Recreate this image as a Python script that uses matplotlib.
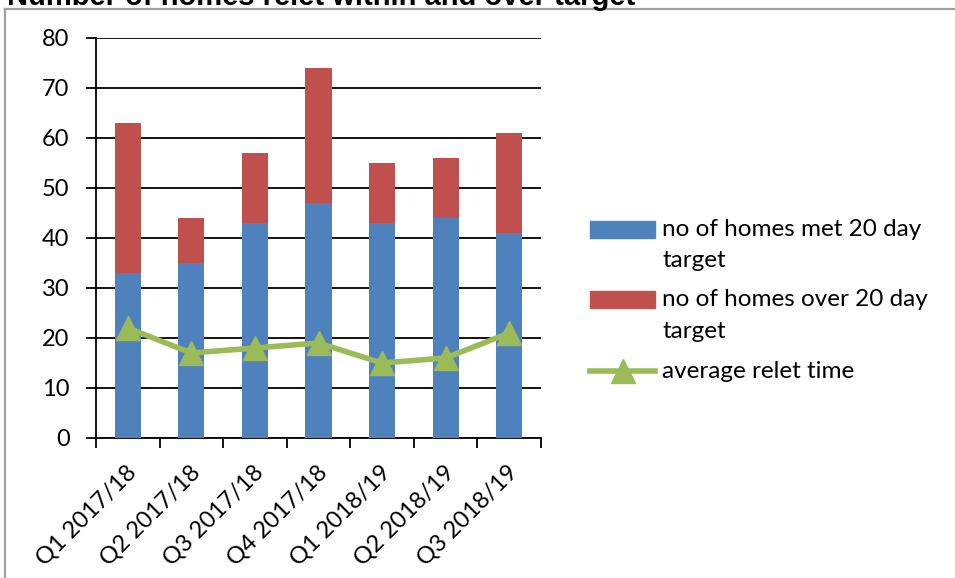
import matplotlib
matplotlib.use('Agg')
import matplotlib.pyplot as plt
import matplotlib.transforms as mtransforms
import numpy as np
from matplotlib.lines import Line2D
from matplotlib.patches import Rectangle

# data
quarters = ['Q1 2017/18', 'Q2 2017/18', 'Q3 2017/18', 'Q4 2017/18',
            'Q1 2018/19', 'Q2 2018/19', 'Q3 2018/19']
met_target = [33, 35, 43, 47, 43, 44, 41]
over_target = [30, 9, 14, 27, 12, 12, 20]
avg_relet = [22, 17, 18, 19, 15, 16, 21]

series_names = [['no of homes met 20 day', 'target'],
                ['no of homes over 20 day', 'target'],
                ['average relet time']]

c_blue = '#4f81bd'
c_red = '#c0504d'
c_green = '#9bbb59'

plt.rcParams['font.family'] = ['Lato', 'DejaVu Sans']

W, H = 955, 578
fig = plt.figure(figsize=(W/100, H/100), dpi=100)
ax = fig.add_axes([96/W, 1 - 438/H, 445/W, 400/H])

x = np.arange(len(quarters))
ax.bar(x, met_target, width=0.41, color=c_blue, zorder=3)
ax.bar(x, over_target, bottom=met_target, width=0.41, color=c_red, zorder=3)
ax.plot(x, avg_relet, color=c_green, lw=4, marker='^', ms=17, zorder=4)

ax.set_xlim(-0.5, len(quarters) - 0.5)
ax.set_ylim(0, 80)
ax.set_yticks(range(0, 81, 10))
ax.tick_params(axis='y', labelsize=17, length=7, width=1.3, pad=12)
ax.yaxis.grid(True, color='black', lw=1.3, zorder=0)

# ticks on category boundaries, labels drawn at centres
ax.set_xticks(np.arange(-0.5, len(quarters), 1.0))
ax.set_xticklabels([])
ax.tick_params(axis='x', length=7, width=1.3, direction='out')
off = mtransforms.ScaledTranslation(0.05, -0.31, fig.dpi_scale_trans)
for xi, q in zip(x, quarters):
    ax.text(xi, 0, q, transform=ax.get_xaxis_transform() + off, rotation=45,
            ha='right', va='center', rotation_mode='anchor', fontsize=17)

for s in ['top', 'right']:
    ax.spines[s].set_visible(False)
ax.spines['left'].set_linewidth(1.3)
ax.spines['bottom'].set_linewidth(1.3)

# legend, drawn by hand (Excel style: key beside first line)
key_y = [229, 299, 371]
for i, (names, yy) in enumerate(zip(series_names, key_y)):
    if i < 2:
        fig.add_artist(Rectangle((590/W, 1 - (yy + 8.5)/H), 65/W, 17/H,
                                 transform=fig.transFigure,
                                 color=[c_blue, c_red][i]))
    else:
        fig.add_artist(Line2D([590/W, 655/W], [1 - yy/H, 1 - yy/H],
                              transform=fig.transFigure, color=c_green, lw=4))
        fig.add_artist(Line2D([622.5/W], [1 - yy/H], transform=fig.transFigure,
                              color=c_green, marker='^', ms=17))
    for j, line in enumerate(names):
        fig.text(662/W, 1 - (yy + 32*j)/H, line, fontsize=17.5,
                 ha='left', va='center')

# outer frame (clipped by image edges)
fig.add_artist(Line2D([5/W, 5/W], [0, 1 - 9/H], transform=fig.transFigure,
                      color='#a0a0a0', lw=1.6))
fig.add_artist(Line2D([5/W, 1], [1 - 9/H, 1 - 9/H], transform=fig.transFigure,
                      color='#a0a0a0', lw=1.6))

fig.text(7/W, 1 - 5/H, 'Number of homes relet within and over target',
         fontsize=21, fontweight='bold', family='Liberation Sans',
         va='baseline', ha='left')

fig.savefig('out.png', dpi=100)
